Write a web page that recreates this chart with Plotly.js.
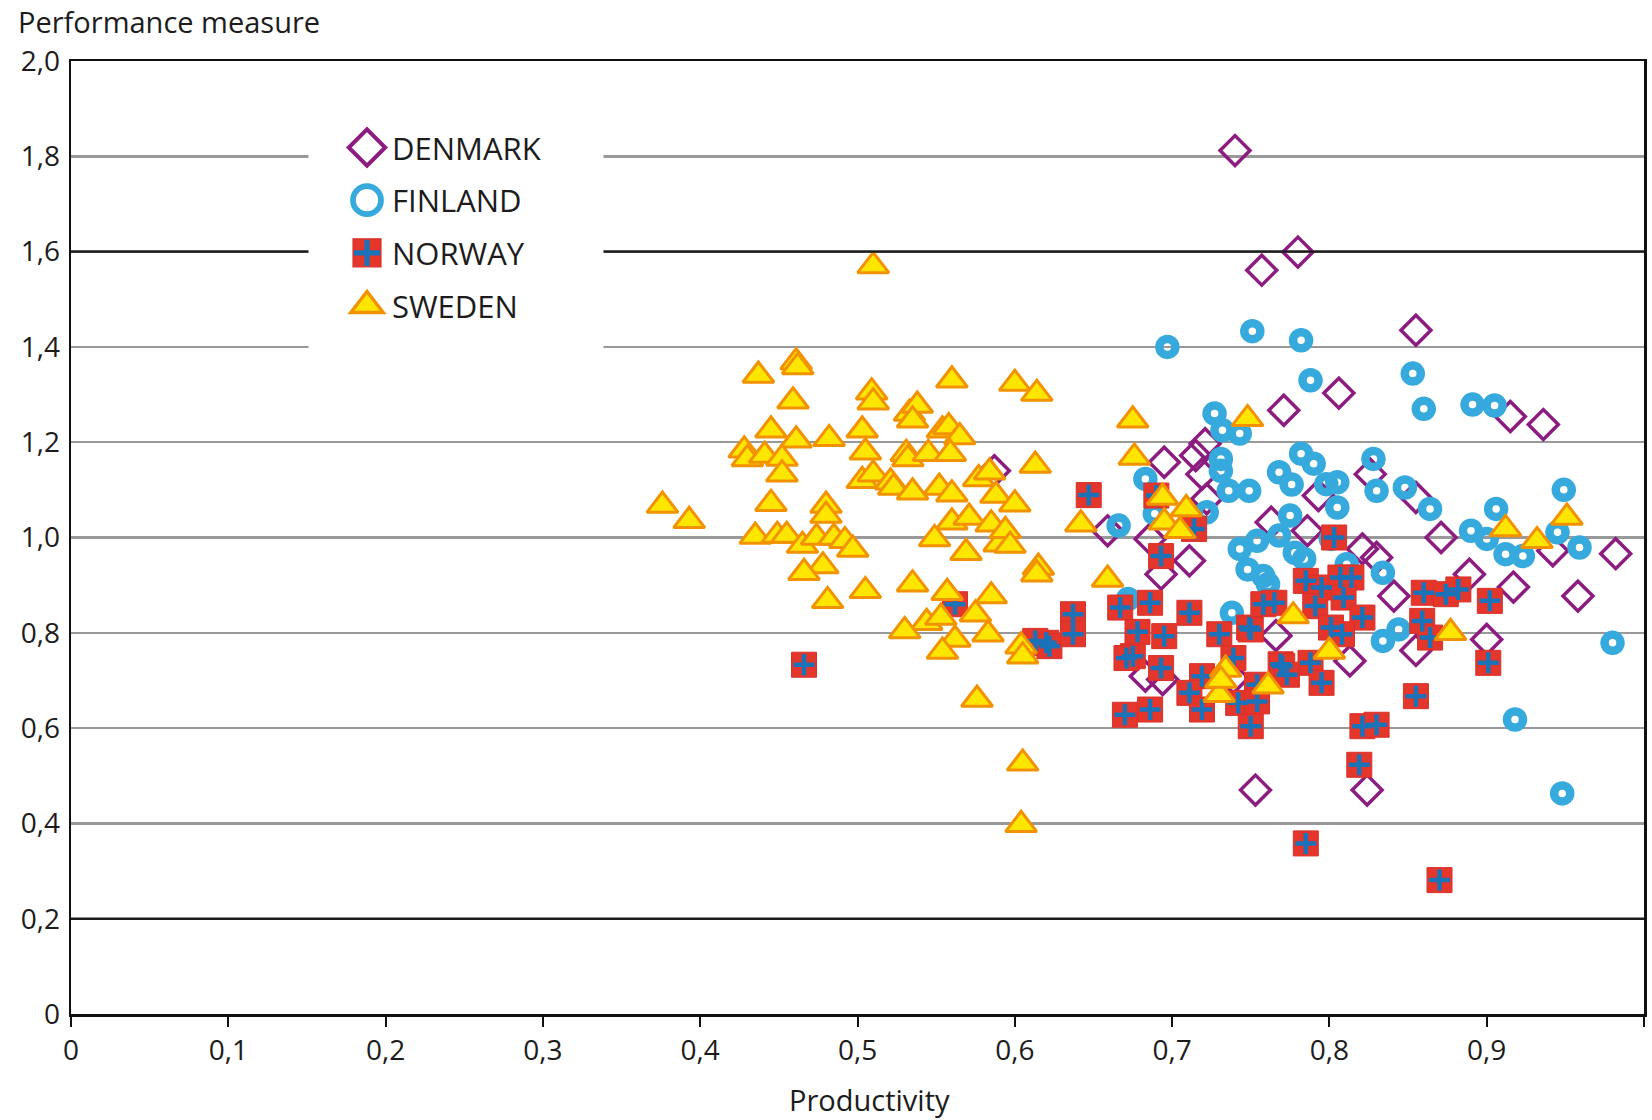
<!DOCTYPE html>
<html>
<head>
<meta charset="utf-8">
<script src="https://cdn.plot.ly/plotly-3.0.1.min.js"></script>
<style>
  html, body { margin: 0; padding: 0; background: #fff; }
  #chart { width: 1652px; height: 1120px; }
</style>
</head>
<body>
<div id="chart"></div>
<script>
// ---- Data ----
const countries = ["DENMARK", "FINLAND", "NORWAY", "SWEDEN"];

const denmarkX = [0.740, 0.780, 0.757, 0.855, 0.806, 0.771, 0.915, 0.936, 0.587, 0.659,
  0.721, 0.715, 0.695, 0.719, 0.722, 0.826, 0.793, 0.855, 0.871, 0.942,
  0.982, 0.917, 0.958, 0.889, 0.841, 0.821, 0.830, 0.900, 0.855, 0.766,
  0.786, 0.763, 0.711, 0.693, 0.686, 0.813, 0.753, 0.824, 0.683, 0.694, 0.739];
const denmarkY = [1.812, 1.599, 1.561, 1.435, 1.303, 1.267, 1.254, 1.237, 1.140, 1.014,
  1.197, 1.172, 1.158, 1.133, 1.081, 1.133, 1.088, 1.084, 1.000, 0.972,
  0.966, 0.896, 0.877, 0.923, 0.877, 0.976, 0.958, 0.786, 0.763, 0.794,
  1.014, 1.032, 0.951, 0.923, 0.997, 0.741, 0.470, 0.470, 0.709, 0.702, 0.705];

const finlandX = [0.697, 0.751, 0.782, 0.853, 0.788, 0.860, 0.891, 0.905, 0.727, 0.732,
  0.743, 0.731, 0.731, 0.683, 0.736, 0.749, 0.722, 0.782, 0.790, 0.768,
  0.776, 0.798, 0.805, 0.805, 0.828, 0.830, 0.848, 0.864, 0.949, 0.906,
  0.890, 0.900, 0.912, 0.923, 0.945, 0.959, 0.775, 0.743, 0.754, 0.768,
  0.748, 0.758, 0.761, 0.778, 0.784, 0.801, 0.811, 0.834, 0.738, 0.834,
  0.844, 0.980, 0.918, 0.948, 0.666, 0.689, 0.672];
const finlandY = [1.400, 1.433, 1.414, 1.344, 1.330, 1.270, 1.279, 1.277, 1.260, 1.225,
  1.218, 1.165, 1.140, 1.123, 1.098, 1.098, 1.053, 1.176, 1.155, 1.137,
  1.111, 1.112, 1.116, 1.063, 1.165, 1.098, 1.105, 1.060, 1.100, 1.060,
  1.014, 0.997, 0.965, 0.961, 1.011, 0.979, 1.046, 0.976, 0.993, 1.004,
  0.933, 0.919, 0.902, 0.968, 0.955, 0.997, 0.944, 0.926, 0.842, 0.783,
  0.807, 0.779, 0.618, 0.463, 1.025, 1.050, 0.871];

const norwayX = [0.647, 0.562, 0.466, 0.620, 0.613, 0.622, 0.637, 0.637, 0.667, 0.686,
  0.678, 0.675, 0.671, 0.693, 0.670, 0.686, 0.690, 0.714, 0.693, 0.711,
  0.695, 0.730, 0.749, 0.758, 0.765, 0.785, 0.795, 0.791, 0.807, 0.814,
  0.809, 0.821, 0.801, 0.808, 0.860, 0.874, 0.882, 0.902, 0.859, 0.864,
  0.901, 0.769, 0.788, 0.803, 0.719, 0.711, 0.719, 0.739, 0.742, 0.750,
  0.750, 0.754, 0.754, 0.770, 0.773, 0.795, 0.855, 0.821, 0.830, 0.819,
  0.785, 0.870];
const norwayY = [1.089, 0.860, 0.733, 0.779, 0.783, 0.772, 0.839, 0.797, 0.853, 0.863,
  0.802, 0.751, 0.747, 0.726, 0.628, 0.639, 1.088, 1.018, 0.961, 0.842,
  0.793, 0.797, 0.811, 0.860, 0.863, 0.909, 0.895, 0.856, 0.916, 0.916,
  0.874, 0.832, 0.811, 0.797, 0.884, 0.881, 0.891, 0.867, 0.825, 0.790,
  0.737, 0.734, 0.737, 1.000, 0.709, 0.674, 0.639, 0.747, 0.653, 0.604,
  0.807, 0.691, 0.656, 0.730, 0.712, 0.695, 0.667, 0.604, 0.607, 0.523,
  0.358, 0.281];

const swedenX = [0.510, 0.461, 0.462, 0.437, 0.459, 0.445, 0.461, 0.428, 0.430, 0.441,
  0.452, 0.452, 0.482, 0.376, 0.393, 0.445, 0.435, 0.449, 0.455, 0.465,
  0.480, 0.480, 0.474, 0.485, 0.492, 0.497, 0.478, 0.466, 0.481, 0.505,
  0.509, 0.510, 0.503, 0.505, 0.503, 0.510, 0.521, 0.523, 0.535, 0.533,
  0.538, 0.535, 0.531, 0.532, 0.545, 0.554, 0.558, 0.565, 0.559, 0.560,
  0.552, 0.560, 0.577, 0.584, 0.588, 0.600, 0.600, 0.614, 0.613, 0.560,
  0.571, 0.549, 0.569, 0.585, 0.590, 0.594, 0.597, 0.615, 0.614, 0.642,
  0.659, 0.675, 0.676, 0.535, 0.557, 0.585, 0.544, 0.553, 0.575, 0.530,
  0.562, 0.583, 0.554, 0.604, 0.605, 0.576, 0.605, 0.604, 0.694, 0.709,
  0.695, 0.705, 0.748, 0.777, 0.800, 0.734, 0.730, 0.761, 0.731, 0.877,
  0.912, 0.932, 0.951];
const swedenY = [1.570, 1.368, 1.358, 1.340, 1.286, 1.225, 1.204, 1.183, 1.165, 1.172,
  1.166, 1.133, 1.207, 1.067, 1.035, 1.071, 1.002, 1.004, 1.004, 0.983,
  1.067, 1.046, 1.000, 1.000, 0.993, 0.975, 0.940, 0.926, 0.867, 0.888,
  1.305, 1.284, 1.225, 1.179, 1.119, 1.133, 1.116, 1.105, 1.095, 1.260,
  1.277, 1.246, 1.176, 1.165, 1.176, 1.225, 1.232, 1.211, 1.176, 1.330,
  1.105, 1.091, 1.123, 1.137, 1.088, 1.070, 1.323, 1.302, 1.151, 1.032,
  1.042, 0.997, 0.968, 1.028, 0.986, 1.014, 0.983, 0.937, 0.923, 1.028,
  0.912, 1.246, 1.168, 0.902, 0.884, 0.877, 0.821, 0.832, 0.839, 0.804,
  0.786, 0.797, 0.761, 0.772, 0.751, 0.660, 0.526, 0.397, 1.084, 1.060,
  1.032, 1.014, 1.249, 0.835, 0.761, 0.723, 0.670, 0.688, 0.700, 0.800,
  1.018, 0.993, 1.042];

const xTickVals = [0, 0.1, 0.2, 0.3, 0.4, 0.5, 0.6, 0.7, 0.8, 0.9, 1];
const xTickText = ["0", "0,1", "0,2", "0,3", "0,4", "0,5", "0,6", "0,7", "0,8", "0,9", "1"];
const yTickVals = [0, 0.2, 0.4, 0.6, 0.8, 1.0, 1.2, 1.4, 1.6, 1.8, 2.0];
const yTickText = ["0", "0,2", "0,4", "0,6", "0,8", "1,0", "1,2", "1,4", "1,6", "1,8", "2,0"];
const darkGridVals = [0.2, 1.6];

const xTitle = "Productivity";
const yTitle = "Performance measure";

// ---- Styles ----
const FONT = "'Open Sans', 'Noto Sans', sans-serif";
const TXT = "#1c1c1c";
const purple = "#8c1c80";
const blue = "#36a9dd";
const red = "#e5362b";
const crossBlue = "#1a72b8";
const yellow = "#ffe600";
const orange = "#f39200";

const traces = [
  {
    type: "scatter", mode: "markers", name: countries[0], legendgroup: "dk",
    x: denmarkX, y: denmarkY, legend: "legend",
    marker: { symbol: "diamond-open", size: 23, color: purple, line: { color: purple, width: 3.5 } }
  },
  {
    type: "scatter", mode: "markers", name: countries[1], legendgroup: "fi",
    x: finlandX, y: finlandY, legend: "legend",
    marker: { symbol: "circle-open", size: 16, color: blue, line: { color: blue, width: 8.5 } }
  },
  {
    type: "scatter", mode: "markers", name: countries[2], legendgroup: "no",
    x: norwayX, y: norwayY, legend: "legend",
    marker: { symbol: "square", size: 25, color: red, line: { color: "#d8302a", width: 1 } }
  },
  {
    type: "scatter", mode: "markers", name: " ", legendgroup: "no2",
    x: norwayX, y: norwayY, legend: "legend2",
    marker: { symbol: "cross-thin-open", size: 15, color: crossBlue, line: { color: crossBlue, width: 4.5 } }
  },
  {
    type: "scatter", mode: "markers", name: countries[3], legendgroup: "se",
    x: swedenX, y: swedenY, legend: "legend",
    marker: { symbol: "triangle-up", size: 27, color: yellow, line: { color: orange, width: 3 } }
  }
];

const shapes = darkGridVals.map(v => ({
  type: "line", xref: "paper", x0: 0, x1: 1, yref: "y", y0: v, y1: v,
  line: { color: "#1a1a1a", width: 2.4 }, layer: "above"
}));
// white box behind the legend that interrupts the grid lines
shapes.push({
  type: "rect", xref: "paper", x0: 0.151, x1: 0.3385, yref: "y", y0: 1.33, y1: 1.9,
  fillcolor: "#ffffff", line: { width: 0 }, layer: "above"
});

const legendFont = { family: FONT, size: 31, color: TXT };

const layout = {
  width: 1652, height: 1120,
  margin: { l: 71, r: 8, t: 61, b: 106 },
  paper_bgcolor: "#fff", plot_bgcolor: "#fff",
  font: { family: FONT, color: TXT, size: 26 },
  showlegend: true,
  legend: {
    x: 0.1726, y: 0.955, xanchor: "left", yanchor: "top",
    bgcolor: "rgba(0,0,0,0)", borderwidth: 0,
    font: legendFont, itemsizing: "trace", itemwidth: 40,
    tracegroupgap: 12, traceorder: "grouped"
  },
  legend2: {
    x: 0.1726, y: 0.85, xanchor: "left", yanchor: "top",
    bgcolor: "rgba(0,0,0,0)", borderwidth: 0,
    font: legendFont, itemsizing: "trace", itemwidth: 40
  },
  xaxis: {
    range: [0, 1], tickvals: xTickVals, ticktext: xTickText,
    showgrid: false, zeroline: false,
    showline: true, linecolor: "#111", linewidth: 2.5, mirror: true,
    ticks: "outside", ticklen: 10, tickwidth: 2, tickcolor: "#111",
    tickfont: { family: FONT, size: 28, color: TXT },
    fixedrange: true
  },
  yaxis: {
    range: [0, 2], tickvals: yTickVals, ticktext: yTickText,
    showgrid: true, gridcolor: "#999999", gridwidth: 2.4,
    zeroline: false,
    showline: true, linecolor: "#111", linewidth: 2.5, mirror: true,
    ticks: "", ticklabelstandoff: 3,
    tickfont: { family: FONT, size: 28, color: TXT },
    fixedrange: true
  },
  shapes: shapes,
  annotations: [
    {
      text: yTitle, xref: "paper", yref: "paper", x: -0.035, y: 1.041,
      xanchor: "left", yanchor: "middle", showarrow: false,
      font: { family: FONT, size: 29, color: TXT }
    },
    {
      text: xTitle, xref: "paper", yref: "paper", x: 0.5076, y: -0.0895,
      xanchor: "center", yanchor: "middle", showarrow: false,
      font: { family: FONT, size: 29, color: TXT }
    }
  ]
};

// target centres of the legend symbols (px) as seen in the reference
const legendSymbolX = 367;
const legendSymbolY = [147.5, 199, 253, 303.5];
const legendSymbolScale = 1.75;
const legendCrossScale = 1.25;

const gd = document.getElementById("chart");

function symbolCentres(legendId) {
  const root = gd.querySelector("g." + legendId);
  if (!root) return [];
  return Array.from(root.querySelectorAll(".legendpoints")).map(el => {
    const r = el.getBoundingClientRect();
    return { x: r.left + r.width / 2, y: r.top + r.height / 2 };
  });
}

function scaleSymbols(selector, k) {
  gd.querySelectorAll(selector).forEach(p => {
    const t = p.getAttribute("transform") || "";
    p.setAttribute("transform", t + " scale(" + k + ")");
    const sw = parseFloat(p.style.strokeWidth || "0");
    if (sw) p.style.strokeWidth = (sw / k * 1.15) + "px";
  });
}

Plotly.newPlot(gd, traces, layout, { staticPlot: true, displayModeBar: false }).then(async () => {
  const sz = gd._fullLayout._size;
  // 1) spacing between legend rows
  let c = symbolCentres("legend");
  if (c.length >= 2) {
    const pitch = (c[c.length - 1].y - c[0].y) / (c.length - 1);
    const wanted = (legendSymbolY[3] - legendSymbolY[0]) / 3;
    await Plotly.relayout(gd, { "legend.tracegroupgap": Math.max(0, 12 + wanted - pitch) });
  }
  // 2) position of the legend (Denmark symbol) and the cross overlay (Norway symbol)
  c = symbolCentres("legend");
  const c2 = symbolCentres("legend2");
  const upd = {};
  if (c.length) {
    upd["legend.x"] = gd._fullLayout.legend.x + (legendSymbolX - c[0].x) / sz.w;
    upd["legend.y"] = gd._fullLayout.legend.y - (legendSymbolY[0] - c[0].y) / sz.h;
  }
  if (c2.length && c.length >= 3) {
    const targetY = c[2].y + (legendSymbolY[0] - c[0].y);
    upd["legend2.x"] = gd._fullLayout.legend2.x + (legendSymbolX - c2[0].x) / sz.w;
    upd["legend2.y"] = gd._fullLayout.legend2.y - (targetY - c2[0].y) / sz.h;
  }
  await Plotly.relayout(gd, upd);
  // 3) enlarge the legend symbols to the size used in the plot
  scaleSymbols("g.legend .legendpoints path.scatterpts", legendSymbolScale);
  scaleSymbols("g.legend2 .legendpoints path.scatterpts", legendCrossScale);
});
</script>
</body>
</html>
